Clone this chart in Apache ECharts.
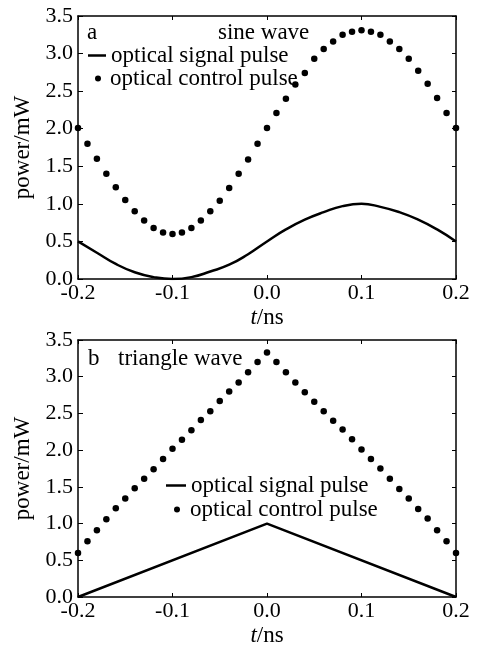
<!DOCTYPE html>
<html>
<head>
<meta charset="utf-8">
<script src="https://cdn.jsdelivr.net/npm/echarts@6/dist/echarts.min.js"></script>
<style>
  html, body { margin: 0; padding: 0; background: #fff; }
  #main { width: 479px; height: 648px; }
</style>
</head>
<body>
<div id="main"></div>
<script>
// time samples of the control pulse dots (ns)
var tDots = [-0.20, -0.19, -0.18, -0.17, -0.16, -0.15, -0.14, -0.13, -0.12, -0.11,
  -0.10, -0.09, -0.08, -0.07, -0.06, -0.05, -0.04, -0.03, -0.02, -0.01,
  0.00, 0.01, 0.02, 0.03, 0.04, 0.05, 0.06, 0.07, 0.08, 0.09,
  0.10, 0.11, 0.12, 0.13, 0.14, 0.15, 0.16, 0.17, 0.18, 0.19, 0.20]

// (a) sine wave
var sineControl = [2.01, 1.80, 1.60, 1.40, 1.22, 1.05, 0.90, 0.78, 0.68, 0.62,
  0.60, 0.62, 0.68, 0.78, 0.90, 1.04, 1.21, 1.40, 1.59, 1.80,
  2.01, 2.21, 2.40, 2.59, 2.74, 2.93, 3.06, 3.16, 3.25, 3.29,
  3.31, 3.29, 3.25, 3.16, 3.06, 2.93, 2.77, 2.60, 2.41, 2.21, 2.01]
var tSignal = [-0.20, -0.18, -0.16, -0.14, -0.12, -0.10, -0.08, -0.06, -0.04, -0.02,
  0.00, 0.02, 0.04, 0.06, 0.08, 0.10, 0.12, 0.14, 0.16, 0.18, 0.20]
var sineSignal = [0.50, 0.35, 0.20, 0.09, 0.025, 0.00, 0.025, 0.10, 0.19, 0.33,
  0.50, 0.66, 0.79, 0.89, 0.97, 1.00, 0.96, 0.89, 0.79, 0.66, 0.50]

// (b) triangle wave
var triControl = [0.60, 0.76, 0.91, 1.06, 1.21, 1.34, 1.48, 1.61, 1.74, 1.88,
  2.02, 2.14, 2.27, 2.41, 2.53, 2.67, 2.80, 2.92, 3.06, 3.20,
  3.33, 3.20, 3.06, 2.92, 2.79, 2.66, 2.53, 2.40, 2.28, 2.15,
  2.01, 1.88, 1.75, 1.61, 1.47, 1.34, 1.20, 1.07, 0.91, 0.76, 0.60]
var tTri = [-0.2, 0.0, 0.2]
var triSignal = [0.0, 1.0, 0.0]

var SIGNAL = "optical signal pulse"
var CONTROL = "optical control pulse"
var FONT = "'Liberation Serif', 'Times New Roman', serif"

function pairs(xs, ys) {
  return xs.map(function (x, i) { return [x, ys[i]] })
}

var grids = [
  { left: 78, right: 23, top: 16, height: 263 },
  { left: 78, right: 23, top: 340, height: 261 },
]

var lineAx = { show: true, onZero: false, lineStyle: { color: "#000", width: 1.5 } }

var xAxes = []
var yAxes = []
grids.forEach(function (g, gi) {
  xAxes.push({
    type: "value", gridIndex: gi, min: -0.2, max: 0.2, interval: 0.1,
    name: "{i|t}/ns", nameLocation: "middle", nameGap: 27,
    nameTextStyle: { color: "#000", fontFamily: FONT, fontSize: 23,
      rich: { i: { fontStyle: "italic", fontFamily: FONT, fontSize: 23, color: "#000" } } },
    axisLine: lineAx,
    axisTick: { inside: true, length: 4, lineStyle: { color: "#000" } },
    axisLabel: { color: "#000", fontFamily: FONT, fontSize: 22, margin: 3,
      formatter: function (v) { return v.toFixed(1) } },
    splitLine: { show: false },
  })
  xAxes.push({
    type: "value", gridIndex: gi, position: "top", min: -0.2, max: 0.2, interval: 0.1,
    axisLine: lineAx,
    axisTick: { inside: true, length: 4, lineStyle: { color: "#000" } },
    axisLabel: { show: false },
    splitLine: { show: false },
  })
  yAxes.push({
    type: "value", gridIndex: gi, min: 0, max: 3.5, interval: 0.5,
    name: "power/mW", nameLocation: "middle", nameGap: 37,
    nameTextStyle: { color: "#000", fontFamily: FONT, fontSize: 23 },
    axisLine: lineAx,
    axisTick: { show: true, inside: true, length: 5, lineStyle: { color: "#000" } },
    axisLabel: { color: "#000", fontFamily: FONT, fontSize: 22, margin: 5,
      formatter: function (v) { return v.toFixed(1) } },
    splitLine: { show: false },
  })
  yAxes.push({
    type: "value", gridIndex: gi, position: "right", min: 0, max: 3.5, interval: 0.5,
    axisLine: lineAx,
    axisTick: { show: true, inside: true, length: 4, lineStyle: { color: "#000" } },
    axisLabel: { show: false },
    splitLine: { show: false },
  })
})

var legendText = { color: "#000", fontFamily: FONT, fontSize: 23 }
var noteStyle = { color: "#000", fontFamily: FONT, fontSize: 23, fontWeight: "normal" }

var option = {
  backgroundColor: "#fff",
  animation: false,
  grid: grids,
  xAxis: xAxes,
  yAxis: yAxes,
  title: [
    { text: "a", left: 87, top: 21, padding: 0, textStyle: noteStyle },
    { text: "sine wave", left: 218, top: 21, padding: 0, textStyle: noteStyle },
    { text: "b", left: 88, top: 347, padding: 0, textStyle: noteStyle },
    { text: "triangle wave", left: 118, top: 347, padding: 0, textStyle: noteStyle },
  ],
  legend: [
    { data: [SIGNAL], left: 88, top: 44, padding: 0, icon: "rect", itemWidth: 18, itemHeight: 2.5,
      selectedMode: false, textStyle: legendText },
    { data: [CONTROL], left: 95, top: 67, padding: 0, icon: "circle", itemWidth: 6, itemHeight: 6,
      selectedMode: false, textStyle: Object.assign({ padding: [0, 0, 0, 4] }, legendText) },
    { data: [SIGNAL], left: 166, top: 474, padding: 0, icon: "rect", itemWidth: 20, itemHeight: 2.5,
      selectedMode: false, textStyle: legendText },
    { data: [CONTROL], left: 174, top: 498, padding: 0, icon: "circle", itemWidth: 6, itemHeight: 6,
      selectedMode: false, textStyle: Object.assign({ padding: [0, 0, 0, 5] }, legendText) },
  ],
  series: [
    {
      name: SIGNAL, type: "line", xAxisIndex: 0, yAxisIndex: 0,
      data: pairs(tSignal, sineSignal), smooth: true, showSymbol: false,
      itemStyle: { color: "#000" }, lineStyle: { color: "#000", width: 2.5 },
    },
    {
      name: CONTROL, type: "scatter", xAxisIndex: 0, yAxisIndex: 0, clip: false,
      data: pairs(tDots, sineControl), symbolSize: 6.5,
      itemStyle: { color: "#000", opacity: 1 },
    },
    {
      name: SIGNAL, type: "line", xAxisIndex: 2, yAxisIndex: 2,
      data: pairs(tTri, triSignal), showSymbol: false,
      itemStyle: { color: "#000" }, lineStyle: { color: "#000", width: 2.5 },
    },
    {
      name: CONTROL, type: "scatter", xAxisIndex: 2, yAxisIndex: 2, clip: false,
      data: pairs(tDots, triControl), symbolSize: 6.5,
      itemStyle: { color: "#000", opacity: 1 },
    },
  ],
}

var chart = echarts.init(document.getElementById("main"), null, { renderer: "canvas" })
chart.setOption(option)
</script>
</body>
</html>
